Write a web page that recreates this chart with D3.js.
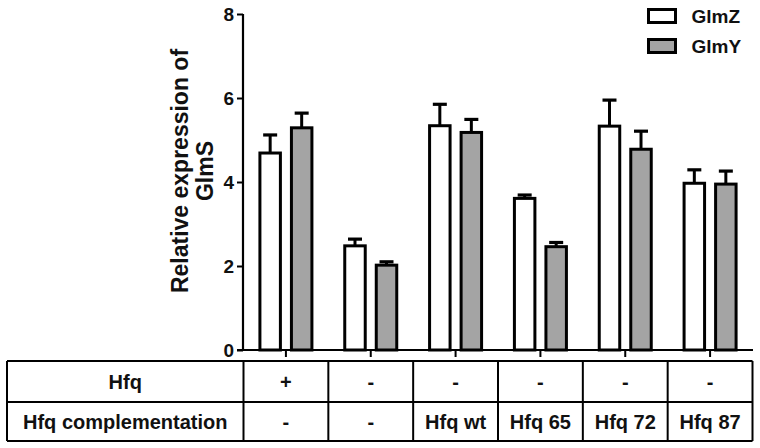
<!DOCTYPE html>
<html><head><meta charset="utf-8">
<script src="https://cdn.jsdelivr.net/npm/d3@7"></script>
<style>body{margin:0;background:#fff}svg{display:block}text{font-family:"Liberation Sans",Arial,sans-serif;font-weight:bold;fill:#111}</style>
</head><body>
<script>
const groups = ["g1","g2","g3","g4","g5","g6"];
const series = ["GlmZ","GlmY"];
const glmZ = [4.69, 2.48, 5.34, 3.61, 5.33, 3.97];
const glmZErr = [0.43, 0.16, 0.51, 0.08, 0.62, 0.32];
const glmY = [5.29, 2.02, 5.18, 2.46, 4.78, 3.95];
const glmYErr = [0.35, 0.08, 0.31, 0.10, 0.43, 0.31];
const yTicks = [0, 2, 4, 6, 8];
const rowLabels = ["Hfq", "Hfq complementation"];
const hfqRow = ["+", "-", "-", "-", "-", "-"];
const complRow = ["-", "-", "Hfq wt", "Hfq 65", "Hfq 72", "Hfq 87"];
const fills = {GlmZ: "#ffffff", GlmY: "#a4a4a4"};

const W = 760, H = 448;
const svg = d3.select("body").append("svg").attr("width", W).attr("height", H);

const x0 = d3.scaleBand().domain(groups).range([243.5, 752.5]).padding(0);
const y = d3.scaleLinear().domain([0, 8]).range([350, 14]);
const bw = x0.bandwidth();
const x1 = d3.scaleBand().domain(series).range([bw/2 - 26, bw/2 + 26]).paddingInner(0.35);

const data = groups.map((g, i) => ({g, vals: [
  {s: "GlmZ", v: glmZ[i], e: glmZErr[i]},
  {s: "GlmY", v: glmY[i], e: glmYErr[i]}
]}));

// bars
const gg = svg.append("g").selectAll("g").data(data).join("g")
  .attr("transform", d => `translate(${x0(d.g)},0)`);
// error bars
gg.selectAll("line.err").data(d => d.vals).join("line")
  .attr("x1", d => x1(d.s) + x1.bandwidth()/2).attr("x2", d => x1(d.s) + x1.bandwidth()/2)
  .attr("y1", d => y(d.v)).attr("y2", d => y(d.v + d.e))
  .attr("stroke", "#000").attr("stroke-width", 3);
gg.selectAll("line.cap").data(d => d.vals).join("line")
  .attr("x1", d => x1(d.s) + x1.bandwidth()/2 - 7).attr("x2", d => x1(d.s) + x1.bandwidth()/2 + 7)
  .attr("y1", d => y(d.v + d.e)).attr("y2", d => y(d.v + d.e))
  .attr("stroke", "#000").attr("stroke-width", 3.2);
gg.selectAll("rect").data(d => d.vals).join("rect")
  .attr("x", d => x1(d.s)).attr("width", x1.bandwidth())
  .attr("y", d => y(d.v)).attr("height", d => y(0) - y(d.v))
  .attr("fill", d => fills[d.s]).attr("stroke", "#000").attr("stroke-width", 3);

// y axis
const yAxis = svg.append("g").attr("transform", "translate(243,0)")
  .call(d3.axisLeft(y).tickValues(yTicks).tickFormat(d3.format("d")).tickSize(6).tickPadding(3));
yAxis.select(".domain").attr("stroke", "#000").attr("stroke-width", 2.2).attr("d", `M0,${y(8)}V${y(0)}`);
yAxis.selectAll(".tick line").attr("stroke", "#000").attr("stroke-width", 2);
yAxis.selectAll(".tick text").style("font-size", "19px").style("font-family", '"Liberation Sans",Arial,sans-serif').style("font-weight", "bold").attr("fill", "#111").attr("dy", "0.36em");

// x axis
const xAxis = svg.append("g").attr("transform", "translate(0,350)")
  .call(d3.axisBottom(x0).tickSize(7).tickFormat(""));
xAxis.select(".domain").attr("stroke", "#000").attr("stroke-width", 2.2).attr("d", `M237,0H753`);
xAxis.selectAll(".tick line").attr("stroke", "#000").attr("stroke-width", 2);

// y title
const yt = svg.append("text").attr("transform", `translate(180,171) rotate(-90)`)
  .attr("text-anchor", "middle").style("font-size", "23px");
yt.append("tspan").attr("x", 0).attr("dy", "0.35em").text("Relative expression of");
yt.append("tspan").attr("x", 0).attr("dy", "1.1em").text("GlmS");

// legend
const lg = svg.append("g").selectAll("g").data(series).join("g")
  .attr("transform", (d, i) => `translate(648.5,${9.5 + i * 30})`);
lg.append("rect").attr("width", 27).attr("height", 13).attr("fill", d => fills[d])
  .attr("stroke", "#000").attr("stroke-width", 3);
lg.append("text").attr("x", 43).attr("y", 13.5).style("font-size", "19px").text(d => d);

// table
const tTop = 361, tMid = 402, tBot = 441, tLeft = 7, tRight = 752.5;
const tb = svg.append("g").attr("stroke", "#000").attr("stroke-width", 2);
[tTop, tMid, tBot].forEach(v => tb.append("line").attr("x1", tLeft).attr("x2", tRight).attr("y1", v).attr("y2", v));
[tLeft, ...groups.map(g => x0(g)), tRight].forEach(v => tb.append("line").attr("x1", v).attr("x2", v).attr("y1", tTop).attr("y2", tBot));
const rowsY = [(tTop + tMid) / 2, (tMid + tBot) / 2];
svg.append("g").selectAll("text").data(rowLabels).join("text")
  .attr("x", (tLeft + x0(groups[0])) / 2).attr("y", (d, i) => rowsY[i]).attr("dy", "0.36em")
  .attr("text-anchor", "middle").style("font-size", "20px").text(d => d);
[hfqRow, complRow].forEach((row, r) => {
  svg.append("g").selectAll("text").data(row).join("text")
    .attr("x", (d, i) => x0(groups[i]) + bw / 2).attr("y", rowsY[r]).attr("dy", "0.36em")
    .attr("text-anchor", "middle").style("font-size", "20px").text(d => d);
});
</script>
</body></html>
